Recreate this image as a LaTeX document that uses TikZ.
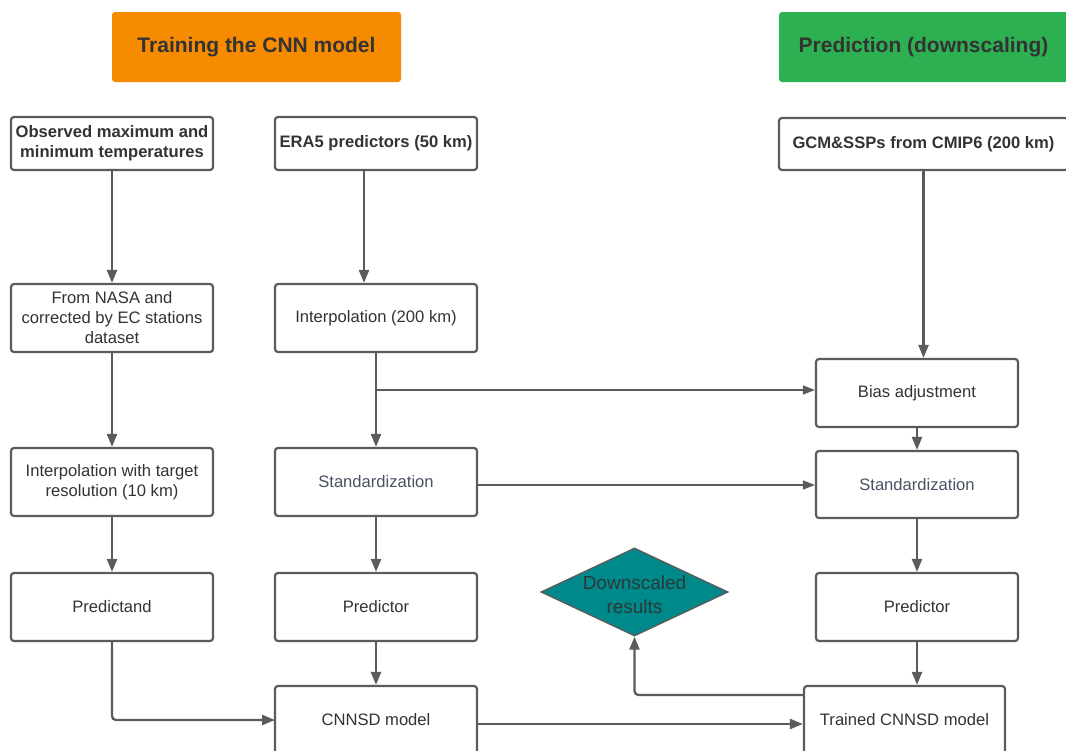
\documentclass[tikz,border=0pt]{standalone}
\usepackage{fontspec}
\setmainfont{Liberation Sans}
\usetikzlibrary{arrows.meta,shapes.geometric,calc}
\definecolor{linec}{HTML}{5B5B5B}
\definecolor{txt}{HTML}{333333}
\definecolor{stdtxt}{HTML}{4A5263}
\definecolor{orangec}{HTML}{F78B00}
\definecolor{greenc}{HTML}{2DB052}
\definecolor{tealc}{HTML}{00898A}
\definecolor{dtxt}{HTML}{2B3838}
\begin{document}
\begin{tikzpicture}[x=1pt,y=-1pt,
  box/.style={draw=linec,line width=2.2pt,rounded corners=3pt,fill=white,text=txt,align=center,inner sep=0pt,font=\fontsize{16.6}{20}\selectfont},
  bbox/.style={box,font=\fontsize{16.6}{20}\selectfont\bfseries},
  head/.style={rounded corners=3pt,inner sep=0pt,text=txt,font=\fontsize{21}{25}\selectfont\bfseries},
  arr/.style={draw=linec,line width=2.3pt,-{Triangle[length=13pt,width=10pt]}},
  tarr/.style={draw=linec,line width=1.4pt,-{Triangle[length=12pt,width=9pt]}},
  tline/.style={draw=linec,line width=1.4pt}]
\useasboundingbox (0,0) rectangle (1066,750);
\clip (0,0) rectangle (1066,750);
\fill[white] (0,0) rectangle (1066,750);
% headers
\node[head,fill=orangec,minimum width=289pt,minimum height=70pt] (h1) at (256.5,47) {Training the CNN model};
\node[head,fill=greenc,minimum width=289pt,minimum height=70pt] (h2) at (923.5,47) {Prediction (downscaling)};
% row 1
\node[bbox,minimum width=202pt,minimum height=53pt] (obs) at (112,143.5) {Observed maximum and\\minimum temperatures};
\node[bbox,minimum width=202pt,minimum height=53pt] (era) at (376,143.5) {ERA5 predictors (50 km)};
\node[bbox,minimum width=289pt,minimum height=52pt] (gcm) at (923.5,144) {GCM\&SSPs from CMIP6 (200 km)};
% row 2
\node[box,minimum width=202pt,minimum height=68pt] (nasa) at (112,318) {From NASA and\\corrected by EC stations\\dataset};
\node[box,minimum width=202pt,minimum height=68pt] (int) at (376,318) {Interpolation (200 km)};
\node[box,minimum width=202pt,minimum height=68pt] (bias) at (917,393) {Bias adjustment};
% row 3
\node[box,minimum width=202pt,minimum height=68pt] (itar) at (112,482) {Interpolation with target\\resolution (10 km)};
\node[box,minimum width=202pt,minimum height=68pt,text=stdtxt] (stdl) at (376,482) {Standardization};
\node[box,minimum width=202pt,minimum height=67pt,text=stdtxt] (stdr) at (917,484.5) {Standardization};
% row 4
\node[box,minimum width=202pt,minimum height=68pt] (pand) at (112,607) {Predictand};
\node[box,minimum width=202pt,minimum height=68pt] (pml) at (376,607) {Predictor};
\node[box,minimum width=202pt,minimum height=68pt] (pmr) at (917,607) {Predictor};
\node[diamond,draw=linec,line width=1.4pt,fill=tealc,text=dtxt,aspect=2.1,minimum width=187pt,minimum height=88pt,inner sep=-4pt,align=center,font=\fontsize{19}{24}\selectfont] (res) at (634.5,592) {\rule{0pt}{20pt}Downscaled\\results};
% row 5
\node[box,minimum width=202pt,minimum height=68pt] (cnn) at (376,720) {CNNSD model};
\node[box,minimum width=201pt,minimum height=68pt] (tcnn) at (904.5,720) {Trained CNNSD model};
% connectors
\draw[arr] (obs.south) -- (nasa.north);
\coordinate (eras) at (364,170);
\draw[arr] (eras) -- (eras |- int.north);
\draw[arr] (gcm.south) -- (gcm.south |- bias.north);
\draw[arr] (nasa.south) -- (itar.north);
\draw[arr] (int.south) -- (stdl.north);
\coordinate (br) at (376,390);
\draw[tarr] (br) -- (bias.west |- br);
\draw[arr] (bias.south) -- (stdr.north);
\coordinate (sl) at (477,485);
\draw[tarr] (sl) -- (stdr.west |- sl);
\draw[arr] (itar.south) -- (pand.north);
\draw[arr] (stdl.south) -- (pml.north);
\draw[arr] (stdr.south) -- (pmr.north);
\coordinate (cw) at (275,720);
\draw[arr,rounded corners=4pt] (pand.south) |- (cw);
\draw[arr] (pml.south) -- (cnn.north);
\coordinate (ce) at (477,724);
\draw[arr] (ce) -- (tcnn.west |- ce);
\draw[arr] (pmr.south) -- (pmr.south |- tcnn.north);
\coordinate (tw) at (804,695);
\draw[arr,rounded corners=4pt] (tw) -| (res.south);
\end{tikzpicture}
\end{document}
